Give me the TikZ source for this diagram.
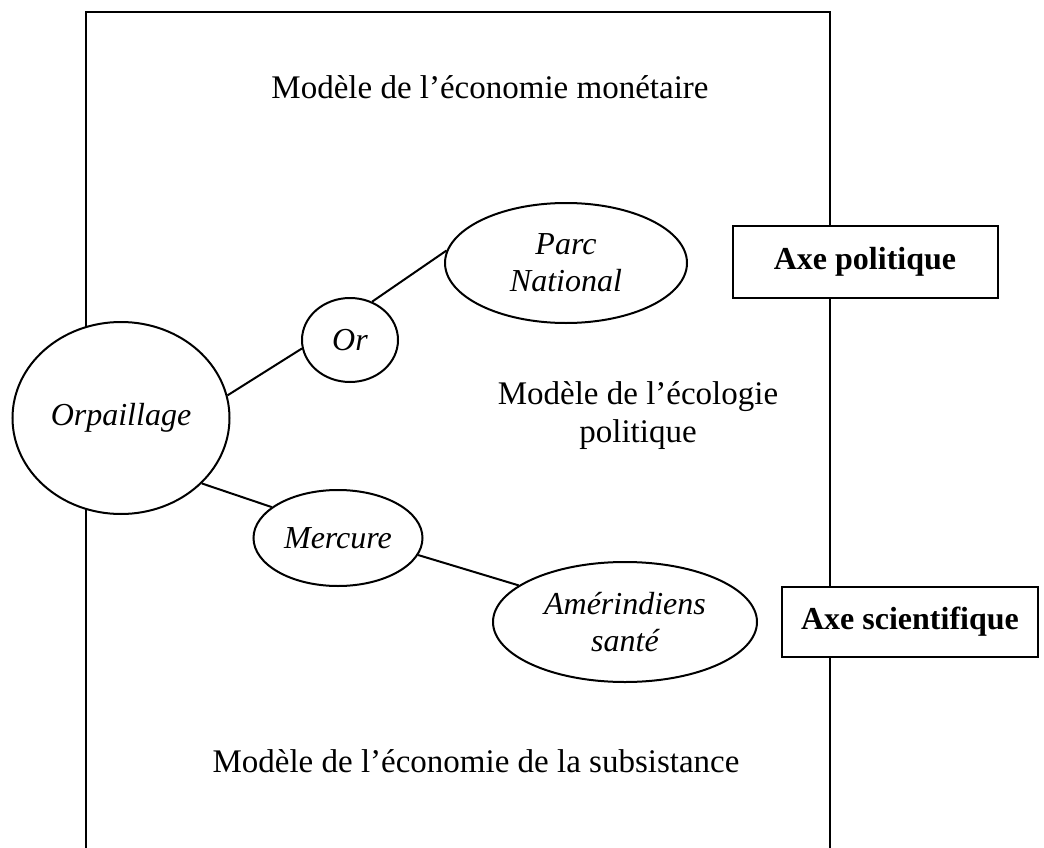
\documentclass[tikz,border=0pt]{standalone}
\usepackage{fontspec}
\setmainfont{Liberation Serif}
\usetikzlibrary{shapes.geometric}

\begin{document}
\begin{tikzpicture}[x=1pt, y=-1pt, line width=2pt,
  every node/.style = {font=\fontsize{33}{38}\selectfont, align=center},
  bulle/.style = {shape=ellipse, draw, fill=white, inner sep=0pt, font=\fontsize{32}{37}\selectfont\itshape},
  axe/.style = {shape=rectangle, draw, fill=white, inner sep=0pt, font=\fontsize{32}{37}\selectfont\bfseries}]
  \useasboundingbox (0,0) rectangle (1044,848);
  % cadre
  \draw (86,848) -- (86,12) -- (830,12) -- (830,848);
  \node[anchor=base] (monet) at (490,99) {Modèle de l’économie monétaire};
  \node[anchor=base] (ecolo) at (638,442) {Modèle de l’écologie\\politique};
  \node[anchor=base] (subsis) at (476,772) {Modèle de l’économie de la subsistance};
  % bulles
  \node[bulle, minimum width=217pt, minimum height=192pt] (orp) at (121,418) {Orpaillage};
  \node[bulle, minimum width=96pt, minimum height=84pt] (or) at (350,340) {Or};
  \node[bulle, minimum width=242pt, minimum height=120pt] (parc) at (566,263) {Parc\\National};
  \node[bulle, minimum width=169pt, minimum height=96pt] (mer) at (338,538) {Mercure};
  \node[bulle, minimum width=264pt, minimum height=120pt] (amer) at (625,622) {Amérindiens\\santé};
  % axes
  \node[axe, minimum width=265pt, minimum height=72pt] (pol) at (865,262) {Axe politique};
  \node[axe, minimum width=256pt, minimum height=70pt] (sci) at (910,622) {Axe scientifique};
  \draw (orp.12) -- (or.190);
  \draw (or.60) -- (parc.174);
  \draw (orp.-39) -- (mer.155);
  \draw (mer.-12) -- (amer.161);
\end{tikzpicture}
\end{document}
